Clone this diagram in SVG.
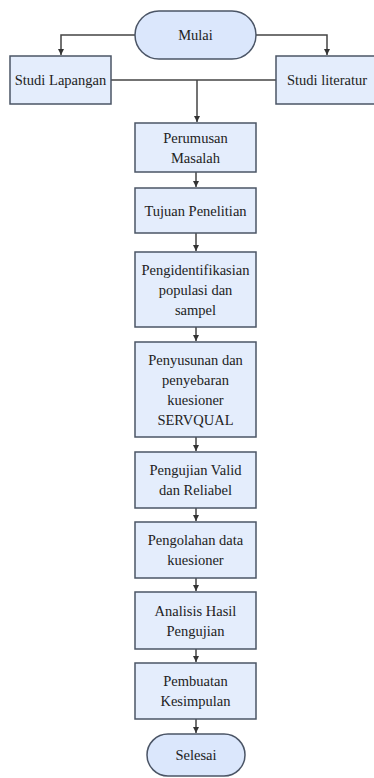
<svg xmlns="http://www.w3.org/2000/svg" width="374" height="778" viewBox="0 0 374 778">
<style>
.box{fill:#e4edfc;stroke:#4b5566;stroke-width:1.5}
.term{fill:#dbe7fc;stroke:#4b5566;stroke-width:1.5}
.t{font-size:14.5px;fill:#222;text-anchor:middle;dominant-baseline:central}
.c{fill:none;stroke:#444;stroke-width:1.5}
</style>
<defs>
<marker id="ah" viewBox="0 0 10 10" refX="10" refY="5" markerWidth="6" markerHeight="6" markerUnits="userSpaceOnUse" orient="auto"><path d="M0,0 L10,5 L0,10 Z" fill="#333"/></marker>
</defs>
<rect width="374" height="778" fill="#fff"/>
<g id="connectors">
<path class="c" d="M135,35 H61 V55" marker-end="url(#ah)"/>
<path class="c" d="M256,35 H327 V55" marker-end="url(#ah)"/>
<path class="c" d="M111,80 H276"/>
<path class="c" d="M197,80 V122" marker-end="url(#ah)"/>
<path class="c" d="M196,172 V187" marker-end="url(#ah)"/>
<path class="c" d="M196,233 V251" marker-end="url(#ah)"/>
<path class="c" d="M196,327 V341" marker-end="url(#ah)"/>
<path class="c" d="M196,437 V451" marker-end="url(#ah)"/>
<path class="c" d="M196,508 V521" marker-end="url(#ah)"/>
<path class="c" d="M196,578 V591" marker-end="url(#ah)"/>
<path class="c" d="M196,649 V662" marker-end="url(#ah)"/>
<path class="c" d="M196,719 V733" marker-end="url(#ah)"/>
</g>
<g id="mulai"><rect class="term" x="135" y="11" width="121" height="48" rx="24"/><text class="t" font-family="Liberation Serif" x="195.5" y="35">Mulai</text></g>
<g id="studi-lapangan"><rect class="box" x="10" y="56" width="101" height="48"/><text class="t" font-family="Liberation Serif" x="60.5" y="80">Studi Lapangan</text></g>
<g id="studi-literatur"><rect class="box" x="276" y="56" width="104" height="48"/><text class="t" font-family="Liberation Serif" x="327" y="80">Studi literatur</text></g>
<g id="perumusan"><rect class="box" x="135" y="123" width="121" height="49"/><text class="t" font-family="Liberation Serif" x="195.5" y="137.5">Perumusan</text><text class="t" font-family="Liberation Serif" x="195.5" y="157.5">Masalah</text></g>
<g id="tujuan"><rect class="box" x="135" y="188" width="121" height="45"/><text class="t" font-family="Liberation Serif" x="195.5" y="210.5">Tujuan Penelitian</text></g>
<g id="pengidentifikasian"><rect class="box" x="135" y="252" width="121" height="75"/><text class="t" font-family="Liberation Serif" x="195.5" y="269.5">Pengidentifikasian</text><text class="t" font-family="Liberation Serif" x="195.5" y="289.5">populasi dan</text><text class="t" font-family="Liberation Serif" x="195.5" y="309.5">sampel</text></g>
<g id="penyusunan"><rect class="box" x="135" y="342" width="121" height="95"/><text class="t" font-family="Liberation Serif" x="195.5" y="359.5">Penyusunan dan</text><text class="t" font-family="Liberation Serif" x="195.5" y="379.5">penyebaran</text><text class="t" font-family="Liberation Serif" x="195.5" y="399.5">kuesioner</text><text class="t" font-family="Liberation Serif" x="195.5" y="419.5">SERVQUAL</text></g>
<g id="pengujian"><rect class="box" x="135" y="452" width="121" height="56"/><text class="t" font-family="Liberation Serif" x="195.5" y="470">Pengujian Valid</text><text class="t" font-family="Liberation Serif" x="195.5" y="490">dan Reliabel</text></g>
<g id="pengolahan"><rect class="box" x="135" y="522" width="121" height="56"/><text class="t" font-family="Liberation Serif" x="195.5" y="540">Pengolahan data</text><text class="t" font-family="Liberation Serif" x="195.5" y="560">kuesioner</text></g>
<g id="analisis"><rect class="box" x="135" y="592" width="121" height="57"/><text class="t" font-family="Liberation Serif" x="195.5" y="610.5">Analisis Hasil</text><text class="t" font-family="Liberation Serif" x="195.5" y="630.5">Pengujian</text></g>
<g id="pembuatan"><rect class="box" x="135" y="663" width="121" height="56"/><text class="t" font-family="Liberation Serif" x="195.5" y="681">Pembuatan</text><text class="t" font-family="Liberation Serif" x="195.5" y="701">Kesimpulan</text></g>
<g id="selesai"><rect class="term" x="147" y="734" width="98" height="42" rx="21"/><text class="t" font-family="Liberation Serif" x="196" y="755">Selesai</text></g>
</svg>
